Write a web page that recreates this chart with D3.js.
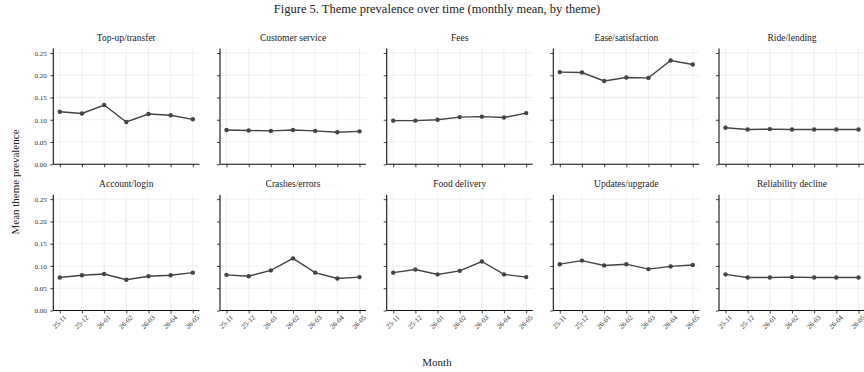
<!DOCTYPE html>
<html><head><meta charset="utf-8">
<script src="https://cdn.jsdelivr.net/npm/d3@7"></script>
<style>body{margin:0;background:#fff}svg{display:block}text{font-family:"Liberation Serif","DejaVu Serif",serif}</style>
</head><body><svg id="c" width="864" height="372"></svg>
<script>
const months = ["25-11","25-12","26-01","26-02","26-03","26-04","26-05"];
const themes = ["Top-up/transfer","Customer service","Fees","Ease/satisfaction","Ride/lending",
                "Account/login","Crashes/errors","Food delivery","Updates/upgrade","Reliability decline"];
const topUp       = [0.118,0.114,0.133,0.095,0.113,0.110,0.101];
const customer    = [0.077,0.076,0.075,0.077,0.075,0.072,0.074];
const fees        = [0.098,0.098,0.100,0.106,0.107,0.105,0.115];
const ease        = [0.207,0.206,0.187,0.195,0.194,0.233,0.224];
const ride        = [0.082,0.078,0.079,0.078,0.078,0.078,0.078];
const account     = [0.074,0.079,0.082,0.069,0.077,0.079,0.085];
const crashes     = [0.080,0.077,0.090,0.117,0.085,0.072,0.075];
const food        = [0.085,0.092,0.081,0.089,0.110,0.081,0.075];
const updates     = [0.104,0.112,0.101,0.104,0.093,0.099,0.102];
const reliability = [0.081,0.074,0.074,0.075,0.074,0.074,0.074];
const yTicks = [0.00,0.05,0.10,0.15,0.20,0.25];
const series = [topUp,customer,fees,ease,ride,account,crashes,food,updates,reliability];

const svg = d3.select("#c");
const W = 146, H = 115.8;
const colX = [53.3, 220, 386.7, 553.3, 719];
const rowY = [48.5, 194.7];
const x = d3.scalePoint().domain(months).range([6.5, 139.5]);
const y = d3.scaleLinear().domain([0, 0.26]).range([H, 0]);
const lineCol = "#444";

svg.append("text").attr("x", 437).attr("y", 13).attr("text-anchor","middle")
  .attr("font-size", 12.5).attr("fill","#222")
  .text("Figure 5. Theme prevalence over time (monthly mean, by theme)");
svg.append("text").attr("transform","translate(19,182) rotate(-90)").attr("text-anchor","middle")
  .attr("font-size", 11).attr("fill","#222").text("Mean theme prevalence");
svg.append("text").attr("x", 437).attr("y", 366).attr("text-anchor","middle")
  .attr("font-size", 11).attr("fill","#222").text("Month");

themes.forEach((t, i) => {
  const r = Math.floor(i/5), c = i%5;
  const g = svg.append("g").attr("transform", `translate(${colX[c]},${rowY[r]})`);
  g.selectAll(".hg").data(yTicks).join("line")
    .attr("x1",0).attr("x2",W).attr("y1",d=>y(d)).attr("y2",d=>y(d))
    .attr("stroke","#ebebeb").attr("stroke-width",0.8);
  g.selectAll(".vg").data(months).join("line")
    .attr("x1",d=>x(d)).attr("x2",d=>x(d)).attr("y1",0).attr("y2",H)
    .attr("stroke","#ebebeb").attr("stroke-width",0.8);
  const ya = d3.axisLeft(y).tickValues(yTicks).tickSize(3).tickPadding(3.5)
    .tickFormat(c === 0 ? d3.format(".2f") : "");
  const yg = g.append("g").call(ya);
  const xa = d3.axisBottom(x).tickSize(3).tickPadding(2)
    .tickFormat(r === 1 ? (d=>d) : "");
  const xg = g.append("g").attr("transform",`translate(0,${H})`).call(xa);
  [yg, xg].forEach(a => {
    a.select(".domain").attr("stroke","#111").attr("stroke-width",1.1);
    a.selectAll(".tick line").attr("stroke","#111").attr("stroke-width",0.8);
    a.selectAll("text").attr("font-family","Liberation Serif").attr("font-size",7).attr("fill","#333");
  });
  yg.select(".domain").attr("d", `M-0,${H}V0`);
  xg.select(".domain").attr("d", `M0,0H${W}`);
  if (r === 1) {
    xg.selectAll(".tick text").attr("text-anchor","end")
      .attr("dx","-0.1em").attr("dy","0.7em")
      .attr("transform","rotate(-45)");
  }
  g.append("text").attr("x", W/2).attr("y", -8).attr("text-anchor","middle")
    .attr("font-size", 9.5).attr("fill","#222").text(t);
  const data = months.map((m, k) => ({m, v: series[i][k]}));
  g.append("path").datum(data)
    .attr("d", d3.line().x(d=>x(d.m)).y(d=>y(d.v)))
    .attr("fill","none").attr("stroke",lineCol).attr("stroke-width",1.4);
  g.selectAll(".pt").data(data).join("circle")
    .attr("cx",d=>x(d.m)).attr("cy",d=>y(d.v)).attr("r",2.2).attr("fill",lineCol);
});
</script></body></html>
